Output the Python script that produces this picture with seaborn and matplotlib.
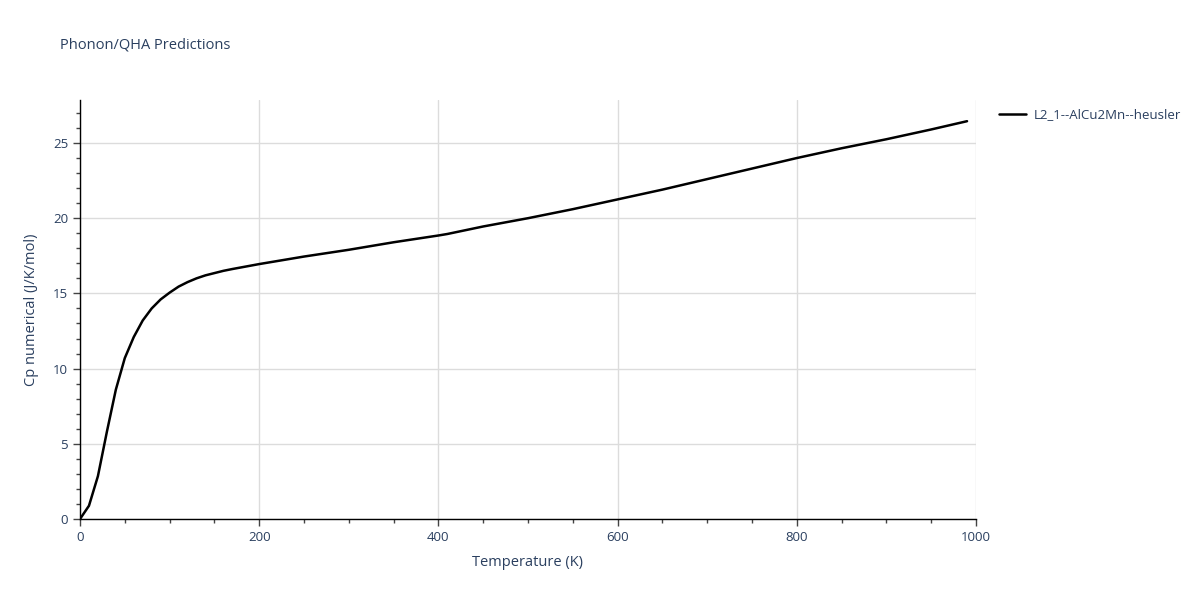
import numpy as np
import pandas as pd
import matplotlib
matplotlib.use('Agg')
import matplotlib.pyplot as plt
import seaborn as sns
from matplotlib.ticker import MultipleLocator

# values
temperature = [0, 10, 20, 30, 40, 50, 60, 70, 80, 90, 100, 110, 120, 130, 140, 150,
               160, 170, 180, 190, 200, 250, 300, 350, 400, 410, 450, 500, 550, 600,
               650, 700, 750, 800, 850, 900, 950, 990]
cp = [0.0, 0.88, 2.85, 5.8, 8.6, 10.7, 12.1, 13.2, 14.0, 14.6, 15.05, 15.45, 15.75, 16.0,
      16.2, 16.35, 16.5, 16.62, 16.73, 16.84, 16.95, 17.45, 17.9, 18.4, 18.85, 18.95,
      19.45, 20.0, 20.6, 21.25, 21.9, 22.6, 23.3, 24.0, 24.65, 25.25, 25.9, 26.45]
series_name = 'L2_1--AlCu2Mn--heusler'

df = pd.DataFrame({'Temperature (K)': temperature, 'Cp': cp, 'name': series_name})

sns.set_theme(style='white')
plt.rcParams['font.family'] = ['Open Sans', 'DejaVu Sans']
text_col = '#2a3f5f'
tick_col = '#444444'

fig = plt.figure(figsize=(12, 6), dpi=100)
ax = fig.add_axes([80 / 1200, 1 - 519 / 600, 896 / 1200, 419 / 600])

sns.lineplot(data=df, x='Temperature (K)', y='Cp', hue='name', palette=['black'],
             linewidth=1.8, ax=ax)

ax.set_xlim(0, 1000)
ax.set_ylim(0, 419 / 15.04)
ax.xaxis.set_major_locator(MultipleLocator(200))
ax.xaxis.set_minor_locator(MultipleLocator(50))
ax.yaxis.set_major_locator(MultipleLocator(5))
ax.yaxis.set_minor_locator(MultipleLocator(1))
ax.grid(True, which='major', color='#dcdcdc', linewidth=1)
ax.set_axisbelow(True)

for s in ['top', 'right']:
    ax.spines[s].set_visible(False)
for s in ['left', 'bottom']:
    ax.spines[s].set_color('black')
    ax.spines[s].set_linewidth(1)

ax.tick_params(which='major', direction='out', length=5, width=1, color=tick_col,
               labelsize=9.5, labelcolor=tick_col, bottom=True, left=True)
ax.tick_params(which='minor', direction='out', length=3, width=1, color=tick_col,
               bottom=True, left=True)
for lbl in ax.get_xticklabels() + ax.get_yticklabels():
    lbl.set_color(text_col)

ax.set_xlabel('Temperature (K)', fontsize=10.5, color=text_col, labelpad=8)
ax.set_ylabel('Cp numerical (J/K/mol)', fontsize=10.5, color=text_col, labelpad=10)

fig.text(60 / 1200, 1 - 45 / 600, 'Phonon/QHA Predictions', fontsize=10.5, color=text_col,
         va='center', ha='left')

leg = ax.legend(loc='upper left', bbox_to_anchor=(994 / 896 - 80 / 896, 1 - 3 / 419),
                frameon=False, fontsize=9.5, handlelength=2.0, handletextpad=0.6,
                borderaxespad=0)
for t in leg.get_texts():
    t.set_color(text_col)

fig.savefig('out.png', dpi=100)
